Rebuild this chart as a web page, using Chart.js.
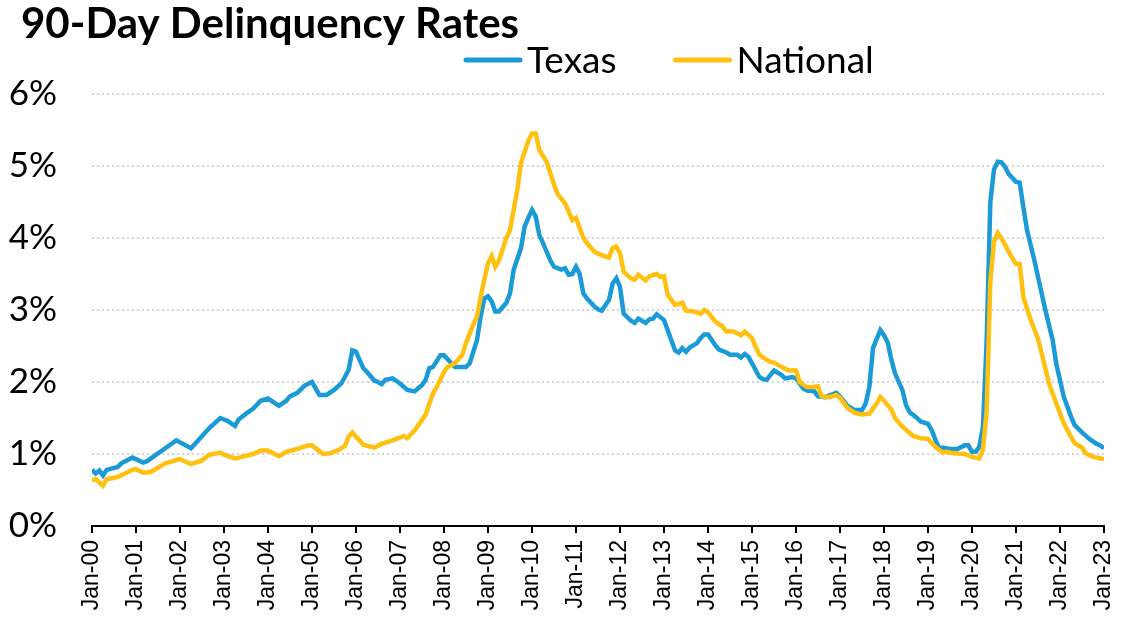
<!DOCTYPE html>
<html>
<head>
<meta charset="utf-8">
<script src="https://cdn.jsdelivr.net/npm/chart.js@4.4.1/dist/chart.umd.min.js"></script>
<style>
  html, body { margin: 0; padding: 0; background: #fff; }
  #wrap { width: 1127px; height: 620px; position: relative; }
</style>
</head>
<body>
<div id="wrap"><canvas id="canvas" width="1127" height="620"></canvas></div>
<script>
let colorTexas = "#1a9ad6";
let colorNational = "#ffc010";
let chartTitle = "90-Day Delinquency Rates";

// x tick labels, one per January (months since Jan-00 = index * 12)
let tickLabels = ["Jan-00", "Jan-01", "Jan-02", "Jan-03", "Jan-04", "Jan-05", "Jan-06", "Jan-07", "Jan-08", "Jan-09", "Jan-10", "Jan-11",
    "Jan-12", "Jan-13", "Jan-14", "Jan-15", "Jan-16", "Jan-17", "Jan-18", "Jan-19", "Jan-20", "Jan-21", "Jan-22", "Jan-23"];

// Texas: month index since Jan-00, rate in %
let texasMonths = [0, 1, 2, 3, 4, 7, 8, 11, 14, 15, 20, 23, 27, 29, 32, 35, 37, 39, 40, 42, 44, 46, 48, 51, 53, 54, 56, 58, 60,
    62, 64, 66, 68, 70, 71, 72, 74, 75, 77, 78, 79, 80, 82, 84, 86, 88, 90, 91, 92, 93, 95, 96, 98, 99, 102, 103, 105, 106, 107, 108,
    109, 110, 111, 113, 114, 115, 117, 118, 119, 120, 121, 122, 123, 125, 126, 128, 129, 130, 131, 132, 133, 134, 135, 137, 138, 139,
    141, 142, 143, 144, 145, 147, 148, 149, 151, 152, 153, 154, 156, 158, 159, 160, 161, 162, 163, 165, 166, 167, 168, 170, 171, 173,
    174, 176, 177, 178, 179, 180, 182, 183, 184, 186, 188, 189, 191, 192, 194, 195, 197, 198, 200, 203, 204, 206, 208, 210, 211, 212,
    213, 215, 216, 217, 218, 219, 221, 222, 223, 225, 226, 228, 229, 230, 231, 232, 234, 236, 238, 239, 240, 241, 242, 243, 244, 245,
    246, 247, 248, 249, 250, 252, 253, 254, 255, 257, 258, 260, 262, 263, 265, 267, 268, 270, 272, 274, 275, 276];
let texasValues = [0.78, 0.73, 0.77, 0.70, 0.78, 0.82, 0.87, 0.95, 0.88, 0.90, 1.08, 1.19, 1.08, 1.19, 1.36, 1.50, 1.46, 1.39, 1.48, 1.56, 1.63, 1.74, 1.77, 1.67, 1.74, 1.80, 1.85, 1.95, 2.00,
    1.82, 1.82, 1.89, 1.98, 2.17, 2.44, 2.42, 2.19, 2.14, 2.02, 2.00, 1.97, 2.03, 2.05, 1.98, 1.89, 1.87, 1.96, 2.03, 2.19, 2.21, 2.37, 2.37, 2.26, 2.21, 2.21, 2.26, 2.58, 2.91, 3.16, 3.19,
    3.12, 2.98, 2.98, 3.10, 3.23, 3.56, 3.86, 4.16, 4.28, 4.39, 4.30, 4.04, 3.93, 3.69, 3.60, 3.56, 3.58, 3.49, 3.50, 3.60, 3.50, 3.23, 3.16, 3.05, 3.01, 2.99,
    3.14, 3.37, 3.44, 3.32, 2.95, 2.85, 2.82, 2.88, 2.82, 2.87, 2.88, 2.94, 2.86, 2.58, 2.44, 2.41, 2.47, 2.42, 2.48, 2.54, 2.61, 2.66, 2.66, 2.51, 2.45, 2.41,
    2.38, 2.38, 2.34, 2.39, 2.35, 2.26, 2.07, 2.04, 2.03, 2.16, 2.10, 2.05, 2.07, 2.05, 1.91, 1.88, 1.87, 1.80, 1.79, 1.85, 1.80, 1.67, 1.61, 1.61, 1.70, 1.93,
    2.47, 2.72, 2.65, 2.55, 2.31, 2.12, 1.89, 1.68, 1.58, 1.50, 1.45, 1.42, 1.33, 1.20, 1.08, 1.09, 1.07, 1.07, 1.12, 1.12, 1.03, 1.03, 1.10, 1.38, 2.58, 4.50,
    4.95, 5.06, 5.05, 4.99, 4.89, 4.78, 4.77, 4.43, 4.11, 3.69, 3.46, 3.00, 2.58, 2.25, 1.80, 1.52, 1.40, 1.30, 1.21, 1.14, 1.12, 1.08];

// National: month index since Jan-00, rate in %
let nationalMonths = [0, 1, 3, 4, 7, 9, 11, 12, 14, 16, 20, 24, 27, 30, 32, 35, 36, 39, 40, 44, 46, 48, 51, 53, 56, 59, 60, 63, 65,
    67, 69, 70, 71, 72, 74, 77, 79, 82, 85, 86, 88, 90, 91, 92, 93, 94, 96, 97, 99, 101, 102, 104, 105, 106, 107, 108, 109, 110, 111,
    113, 114, 116, 117, 118, 119, 120, 121, 122, 124, 126, 127, 129, 131, 132, 134, 135, 137, 139, 141, 142, 143, 144, 145, 147, 148,
    149, 151, 152, 154, 155, 156, 157, 159, 161, 162, 164, 166, 167, 168, 170, 172, 173, 175, 177, 178, 180, 181, 182, 183, 185, 186,
    188, 190, 192, 193, 195, 197, 198, 199, 201, 203, 204, 206, 208, 210, 212, 214, 215, 216, 218, 219, 221, 223, 224, 226, 228, 229,
    230, 231, 232, 233, 235, 238, 240, 242, 243, 244, 245, 246, 247, 248, 250, 251, 252, 253, 254, 256, 258, 259, 261, 263, 265, 267,
    268, 270, 271, 273, 275, 276];
let nationalValues = [0.64, 0.65, 0.56, 0.65, 0.68, 0.73, 0.78, 0.79, 0.74, 0.75, 0.87, 0.93, 0.86, 0.91, 0.99, 1.02, 0.99, 0.94, 0.95, 1.00, 1.05, 1.05, 0.97, 1.03, 1.07, 1.12, 1.12, 1.00, 1.01,
    1.05, 1.11, 1.24, 1.30, 1.24, 1.13, 1.09, 1.14, 1.19, 1.25, 1.22, 1.33, 1.47, 1.55, 1.70, 1.84, 1.93, 2.14, 2.21, 2.26, 2.38, 2.54, 2.80, 2.91, 3.18, 3.42, 3.65, 3.75, 3.60, 3.69,
    4.00, 4.11, 4.67, 5.04, 5.20, 5.35, 5.45, 5.45, 5.22, 5.06, 4.74, 4.61, 4.48, 4.25, 4.28, 4.00, 3.93, 3.81, 3.76, 3.73, 3.86, 3.88, 3.79, 3.53, 3.44, 3.42,
    3.49, 3.41, 3.47, 3.50, 3.46, 3.47, 3.21, 3.07, 3.10, 2.99, 2.98, 2.95, 3.00, 2.97, 2.84, 2.77, 2.70, 2.70, 2.65, 2.70, 2.61, 2.49, 2.38, 2.34, 2.28, 2.27,
    2.21, 2.16, 2.16, 2.00, 1.93, 1.93, 1.94, 1.80, 1.79, 1.82, 1.78, 1.64, 1.57, 1.55, 1.56, 1.70, 1.79, 1.74, 1.62, 1.50, 1.38, 1.29, 1.25, 1.22, 1.21, 1.15,
    1.10, 1.06, 1.02, 1.03, 1.01, 1.00, 0.96, 0.94, 1.06, 1.60, 3.40, 3.95, 4.07, 4.00, 3.81, 3.72, 3.64, 3.64, 3.18, 2.86, 2.60, 2.40, 1.98, 1.70, 1.43, 1.24,
    1.15, 1.09, 1.01, 0.96, 0.94, 0.93];

let toPoints = (months, values) => months.map((m, i) => ({x: m, y: values[i]}));

// title and legend drawn at the top of the canvas
let headerPlugin = {
    id: "header",
    afterDraw: function(chart) {
        let ctx = chart.ctx;
        ctx.save();
        ctx.fillStyle = "#000";
        ctx.textBaseline = "alphabetic";
        ctx.font = "bold 42px Lato";
        ctx.fillText(chartTitle, 21, 38);

        ctx.font = "37px Lato";
        ctx.textBaseline = "middle";
        let x = 466;
        chart.data.datasets.forEach((ds) => {
            ctx.strokeStyle = ds.borderColor;
            ctx.lineWidth = 5;
            ctx.lineCap = "round";
            ctx.beginPath();
            ctx.moveTo(x, 60);
            ctx.lineTo(x + 54, 60);
            ctx.stroke();
            ctx.fillText(ds.label, x + 61, 61);
            x += 61 + ctx.measureText(ds.label).width + 59;
        });
        ctx.restore();
    }
};

function draw() {
    new Chart(document.getElementById("canvas").getContext("2d"), {
        type: "line",
        data: {
            datasets: [{
                label: "Texas",
                data: toPoints(texasMonths, texasValues),
                borderColor: colorTexas,
                borderWidth: 4.5,
                pointRadius: 0,
                tension: 0,
                order: 1
            }, {
                label: "National",
                data: toPoints(nationalMonths, nationalValues),
                borderColor: colorNational,
                borderWidth: 4.5,
                pointRadius: 0,
                tension: 0,
                order: 0
            }]
        },
        options: {
            responsive: false,
            animation: false,
            layout: {
                padding: {left: 0, right: 23, top: 94, bottom: 0}
            },
            plugins: {
                legend: {display: false},
                title: {display: false},
                tooltip: {enabled: false}
            },
            scales: {
                x: {
                    type: "linear",
                    min: 0,
                    max: 276,
                    afterBuildTicks: (scale) => {
                        scale.ticks = tickLabels.map((t, i) => ({value: i * 12}));
                    },
                    afterFit: (scale) => {
                        scale.height = 94;
                        scale.paddingLeft = 0;
                        scale.paddingRight = 0;
                    },
                    ticks: {
                        autoSkip: false,
                        minRotation: 90,
                        maxRotation: 90,
                        padding: 7,
                        color: "#000",
                        font: {family: "Liberation Sans", size: 23},
                        callback: (v) => tickLabels[Math.round(v / 12)]
                    },
                    grid: {
                        drawOnChartArea: false,
                        drawTicks: true,
                        tickLength: 7,
                        color: "#000",
                        lineWidth: 2
                    },
                    border: {display: true, color: "#000", width: 2}
                },
                y: {
                    min: 0,
                    max: 6,
                    afterFit: (scale) => {
                        scale.width = 92;
                        scale.paddingTop = 0;
                        scale.paddingBottom = 0;
                    },
                    ticks: {
                        stepSize: 1,
                        padding: 35,
                        color: "#000",
                        font: {family: "Lato", size: 35},
                        callback: (v) => v + "%"
                    },
                    grid: {
                        drawTicks: false,
                        color: (c) => c.tick && c.tick.value === 0 ? "rgba(0,0,0,0)" : "#d4d4d4",
                        lineWidth: 2
                    },
                    border: {display: false, dash: [2, 3]}
                }
            }
        },
        plugins: [headerPlugin]
    });
}

Promise.all([
    document.fonts.load("bold 42px Lato"),
    document.fonts.load("37px Lato"),
    document.fonts.load("23px 'Liberation Sans'")
]).then(draw, draw);
</script>
</body>
</html>
